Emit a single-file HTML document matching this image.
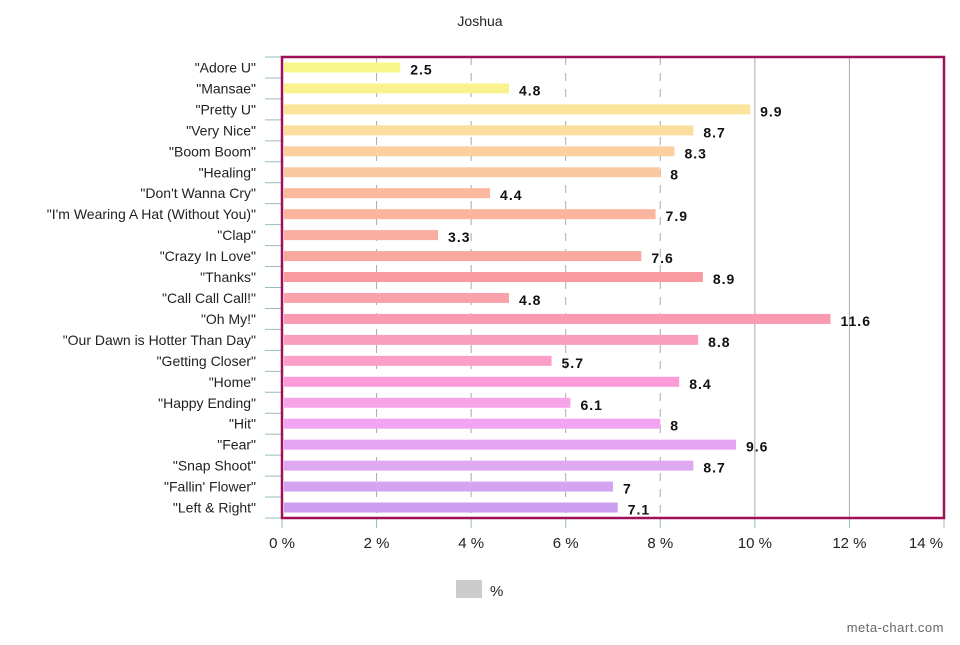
<!DOCTYPE html>
<html><head><meta charset="utf-8"><style>
body{margin:0;background:#fff;font-family:"Liberation Sans",sans-serif;}
</style></head><body>
<svg id="chart" width="960" height="640" xmlns="http://www.w3.org/2000/svg"></svg>
<script>
const categories=['"Adore U"','"Mansae"','"Pretty U"','"Very Nice"','"Boom Boom"','"Healing"','"Don\'t Wanna Cry"','"I\'m Wearing A Hat (Without You)"','"Clap"','"Crazy In Love"','"Thanks"','"Call Call Call!"','"Oh My!"','"Our Dawn is Hotter Than Day"','"Getting Closer"','"Home"','"Happy Ending"','"Hit"','"Fear"','"Snap Shoot"','"Fallin\' Flower"','"Left & Right"'];
const values=[2.5,4.8,9.9,8.7,8.3,8,4.4,7.9,3.3,7.6,8.9,4.8,11.6,8.8,5.7,8.4,6.1,8,9.6,8.7,7,7.1];
const valueLabels=['2.5','4.8','9.9','8.7','8.3','8','4.4','7.9','3.3','7.6','8.9','4.8','11.6','8.8','5.7','8.4','6.1','8','9.6','8.7','7','7.1'];
const colors=['#f8f88a','#f9f28e','#fae59a','#fbde9e','#fcd09e','#fcc8a0','#fbb89c','#fbb49e','#faaca0','#f9a89e','#f89aa0','#f9a2ac','#f99ab0','#fa9ebe','#fb9ec8','#fb9cd8','#f8a4e8','#f2a4f2','#e6a4f4','#dea8f2','#d4a4f2','#cc9ef0'];
const xTicks=[0,2,4,6,8,10,12,14];
const svg=document.getElementById('chart');const NS='http://www.w3.org/2000/svg';
const L=282,R=944,T=57,B=518,xmax=14;
const x=v=>L+v/xmax*(R-L);
const band=(B-T)/categories.length;
const y=i=>T+i*band;
function mk(t,a,txt){const e=document.createElementNS(NS,t);for(const k in a)e.setAttribute(k,a[k]);if(txt!==undefined)e.textContent=txt;svg.appendChild(e);return e;}
let e=mk('text',{x:480,y:26,'text-anchor':'middle','font-size':14,fill:'#222'},'Joshua');


xTicks.forEach(t=>{
 if(t>0&&t<xmax){let g=mk('line',{x1:x(t),x2:x(t),y1:T,y2:B,stroke:'#aaa','stroke-width':1,'stroke-dasharray':t<10?'8,8':'none'});
 
 }
 let l=mk('text',{x:x(t)+(t==14?-18:0),y:548,'text-anchor':'middle','font-size':15,fill:'#222'},t+' %');
 
 
 let tk=mk('line',{x1:x(t),x2:x(t),y1:B,y2:B+10,stroke:'#9bb',"stroke-width":1});
 
 
});
categories.forEach((c,i)=>{
 let tk=mk('line',{x1:265,x2:L,y1:y(i),y2:y(i),stroke:'#9bb'});
 
 
 let yc=y(i)+band/2;
 let b=mk('rect',{x:L+2,y:yc-5,width:x(values[i])-L-2,height:10,fill:colors[i]});
 
 
 let l=mk('text',{x:256,y:yc+5,'text-anchor':'end','font-size':14,fill:'#222'},c);
 
 
 let v=mk('text',{x:x(values[i])+10,y:yc+7,'font-size':14,'font-weight':'bold',fill:'#111','letter-spacing':'1'},valueLabels[i]);
 
 
});
let tk=mk('line',{x1:265,x2:L,y1:B,y2:B,stroke:'#9bb'});


let fr=mk('rect',{x:L,y:T,width:R-L,height:B-T,fill:'none',stroke:'#a0105a','stroke-width':2.5});


let sw=mk('rect',{x:456,y:580,width:26,height:18,fill:'#ccc'});


let lt=mk('text',{x:490,y:596,'font-size':15,fill:'#222'},'%');


let wm=mk('text',{x:944,y:632,'text-anchor':'end','font-size':13,fill:'#666','letter-spacing':'0.5'},'meta-chart.com');


</script>
</body></html>
